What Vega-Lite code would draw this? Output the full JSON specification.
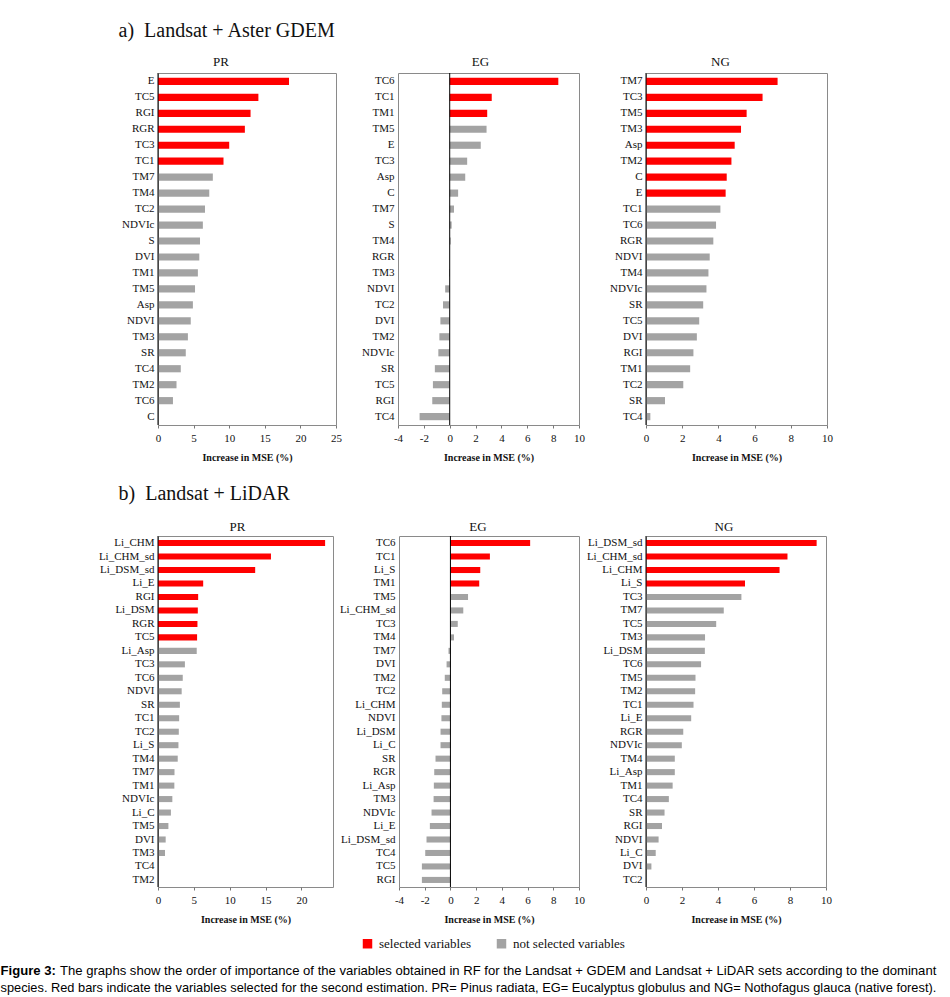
{
"$schema":"https://vega.github.io/schema/vega-lite/v6.json",
"padding":{"left":0,"top":21,"right":0,"bottom":0},
"background":"white",
"config":{
 "font":"Liberation Serif",
 "view":{"stroke":"#8a8a8a","strokeWidth":1},
 "scale":{"bandPaddingInner":0.55,"bandPaddingOuter":0.3},
 "axis":{"grid":false,"labelFont":"Liberation Serif","titleFont":"Liberation Serif","labelColor":"#111","titleColor":"#111"},
 "axisY":{"ticks":false,"domain":false,"labelFontSize":11,"labelPadding":4},
 "axisX":{"domain":false,"tickColor":"#777","tickSize":3,"labelFontSize":11,"labelFlush":false,"labelPadding":4,"titleFontSize":10,"titleFontWeight":"bold","titlePadding":9,"labelExpr":"replace(datum.label, '\u2212', '-')"},
 "title":{"font":"Liberation Serif","fontSize":13,"fontWeight":"normal","offset":4,"color":"#111"},
 "concat":{"spacing":0}
},
"datasets":{
 "aPR":[
  {"v":"E","r":1,"x":18.4,"k":"selected"},{"v":"TC5","r":2,"x":14.1,"k":"selected"},{"v":"RGI","r":3,"x":13.0,"k":"selected"},{"v":"RGR","r":4,"x":12.2,"k":"selected"},{"v":"TC3","r":5,"x":10.0,"k":"selected"},{"v":"TC1","r":6,"x":9.2,"k":"selected"},
  {"v":"TM7","r":7,"x":7.7,"k":"not selected"},{"v":"TM4","r":8,"x":7.2,"k":"not selected"},{"v":"TC2","r":9,"x":6.6,"k":"not selected"},{"v":"NDVIc","r":10,"x":6.3,"k":"not selected"},{"v":"S","r":11,"x":5.9,"k":"not selected"},{"v":"DVI","r":12,"x":5.8,"k":"not selected"},{"v":"TM1","r":13,"x":5.6,"k":"not selected"},{"v":"TM5","r":14,"x":5.2,"k":"not selected"},{"v":"Asp","r":15,"x":4.9,"k":"not selected"},{"v":"NDVI","r":16,"x":4.6,"k":"not selected"},{"v":"TM3","r":17,"x":4.2,"k":"not selected"},{"v":"SR","r":18,"x":3.9,"k":"not selected"},{"v":"TC4","r":19,"x":3.2,"k":"not selected"},{"v":"TM2","r":20,"x":2.6,"k":"not selected"},{"v":"TC6","r":21,"x":2.1,"k":"not selected"},{"v":"C","r":22,"x":0,"k":"not selected"}
 ],
 "aEG":[
  {"v":"TC6","r":1,"x":8.4,"k":"selected"},{"v":"TC1","r":2,"x":3.25,"k":"selected"},{"v":"TM1","r":3,"x":2.9,"k":"selected"},
  {"v":"TM5","r":4,"x":2.85,"k":"not selected"},{"v":"E","r":5,"x":2.4,"k":"not selected"},{"v":"TC3","r":6,"x":1.35,"k":"not selected"},{"v":"Asp","r":7,"x":1.2,"k":"not selected"},{"v":"C","r":8,"x":0.65,"k":"not selected"},{"v":"TM7","r":9,"x":0.33,"k":"not selected"},{"v":"S","r":10,"x":0.15,"k":"not selected"},{"v":"TM4","r":11,"x":0.08,"k":"not selected"},{"v":"RGR","r":12,"x":0,"k":"not selected"},{"v":"TM3","r":13,"x":-0.05,"k":"not selected"},{"v":"NDVI","r":14,"x":-0.35,"k":"not selected"},{"v":"TC2","r":15,"x":-0.52,"k":"not selected"},{"v":"DVI","r":16,"x":-0.72,"k":"not selected"},{"v":"TM2","r":17,"x":-0.8,"k":"not selected"},{"v":"NDVIc","r":18,"x":-0.88,"k":"not selected"},{"v":"SR","r":19,"x":-1.15,"k":"not selected"},{"v":"TC5","r":20,"x":-1.3,"k":"not selected"},{"v":"RGI","r":21,"x":-1.35,"k":"not selected"},{"v":"TC4","r":22,"x":-2.33,"k":"not selected"}
 ],
 "aNG":[
  {"v":"TM7","r":1,"x":7.27,"k":"selected"},{"v":"TC3","r":2,"x":6.44,"k":"selected"},{"v":"TM5","r":3,"x":5.56,"k":"selected"},{"v":"TM3","r":4,"x":5.25,"k":"selected"},{"v":"Asp","r":5,"x":4.9,"k":"selected"},{"v":"TM2","r":6,"x":4.72,"k":"selected"},{"v":"C","r":7,"x":4.46,"k":"selected"},{"v":"E","r":8,"x":4.4,"k":"selected"},
  {"v":"TC1","r":9,"x":4.11,"k":"not selected"},{"v":"TC6","r":10,"x":3.87,"k":"not selected"},{"v":"RGR","r":11,"x":3.72,"k":"not selected"},{"v":"NDVI","r":12,"x":3.52,"k":"not selected"},{"v":"TM4","r":13,"x":3.45,"k":"not selected"},{"v":"NDVIc","r":14,"x":3.34,"k":"not selected"},{"v":"SR","r":15,"x":3.16,"k":"not selected"},{"v":"TC5","r":16,"x":2.94,"k":"not selected"},{"v":"DVI","r":17,"x":2.81,"k":"not selected"},{"v":"RGI","r":18,"x":2.62,"k":"not selected"},{"v":"TM1","r":19,"x":2.44,"k":"not selected"},{"v":"TC2","r":20,"x":2.06,"k":"not selected"},{"v":"SR\u200b","r":21,"x":1.05,"k":"not selected"},{"v":"TC4","r":22,"x":0.24,"k":"not selected"}
 ],
 "bPR":[
  {"v":"Li_CHM","r":1,"x":23.3,"k":"selected"},{"v":"Li_CHM_sd","r":2,"x":15.75,"k":"selected"},{"v":"Li_DSM_sd","r":3,"x":13.55,"k":"selected"},{"v":"Li_E","r":4,"x":6.3,"k":"selected"},{"v":"RGI","r":5,"x":5.6,"k":"selected"},{"v":"Li_DSM","r":6,"x":5.55,"k":"selected"},{"v":"RGR","r":7,"x":5.5,"k":"selected"},{"v":"TC5","r":8,"x":5.45,"k":"selected"},
  {"v":"Li_Asp","r":9,"x":5.4,"k":"not selected"},{"v":"TC3","r":10,"x":3.75,"k":"not selected"},{"v":"TC6","r":11,"x":3.45,"k":"not selected"},{"v":"NDVI","r":12,"x":3.3,"k":"not selected"},{"v":"SR","r":13,"x":3.05,"k":"not selected"},{"v":"TC1","r":14,"x":2.95,"k":"not selected"},{"v":"TC2","r":15,"x":2.9,"k":"not selected"},{"v":"Li_S","r":16,"x":2.85,"k":"not selected"},{"v":"TM4","r":17,"x":2.75,"k":"not selected"},{"v":"TM7","r":18,"x":2.3,"k":"not selected"},{"v":"TM1","r":19,"x":2.28,"k":"not selected"},{"v":"NDVIc","r":20,"x":2.0,"k":"not selected"},{"v":"Li_C","r":21,"x":1.8,"k":"not selected"},{"v":"TM5","r":22,"x":1.45,"k":"not selected"},{"v":"DVI","r":23,"x":1.07,"k":"not selected"},{"v":"TM3","r":24,"x":0.98,"k":"not selected"},{"v":"TC4","r":25,"x":0,"k":"not selected"},{"v":"TM2","r":26,"x":0,"k":"not selected"}
 ],
 "bEG":[
  {"v":"TC6","r":1,"x":6.2,"k":"selected"},{"v":"TC1","r":2,"x":3.07,"k":"selected"},{"v":"Li_S","r":3,"x":2.32,"k":"selected"},{"v":"TM1","r":4,"x":2.24,"k":"selected"},
  {"v":"TM5","r":5,"x":1.37,"k":"not selected"},{"v":"Li_CHM_sd","r":6,"x":1.0,"k":"not selected"},{"v":"TC3","r":7,"x":0.57,"k":"not selected"},{"v":"TM4","r":8,"x":0.28,"k":"not selected"},{"v":"TM7","r":9,"x":-0.15,"k":"not selected"},{"v":"DVI","r":10,"x":-0.3,"k":"not selected"},{"v":"TM2","r":11,"x":-0.44,"k":"not selected"},{"v":"TC2","r":12,"x":-0.64,"k":"not selected"},{"v":"Li_CHM","r":13,"x":-0.67,"k":"not selected"},{"v":"NDVI","r":14,"x":-0.7,"k":"not selected"},{"v":"Li_DSM","r":15,"x":-0.77,"k":"not selected"},{"v":"Li_C","r":16,"x":-0.77,"k":"not selected"},{"v":"SR","r":17,"x":-1.16,"k":"not selected"},{"v":"RGR","r":18,"x":-1.26,"k":"not selected"},{"v":"Li_Asp","r":19,"x":-1.29,"k":"not selected"},{"v":"TM3","r":20,"x":-1.31,"k":"not selected"},{"v":"NDVIc","r":21,"x":-1.47,"k":"not selected"},{"v":"Li_E","r":22,"x":-1.6,"k":"not selected"},{"v":"Li_DSM_sd","r":23,"x":-1.86,"k":"not selected"},{"v":"TC4","r":24,"x":-1.96,"k":"not selected"},{"v":"TC5","r":25,"x":-2.22,"k":"not selected"},{"v":"RGI","r":26,"x":-2.22,"k":"not selected"}
 ],
 "bNG":[
  {"v":"Li_DSM_sd","r":1,"x":9.48,"k":"selected"},{"v":"Li_CHM_sd","r":2,"x":7.86,"k":"selected"},{"v":"Li_CHM","r":3,"x":7.42,"k":"selected"},{"v":"Li_S","r":4,"x":5.5,"k":"selected"},
  {"v":"TC3","r":5,"x":5.3,"k":"not selected"},{"v":"TM7","r":6,"x":4.32,"k":"not selected"},{"v":"TC5","r":7,"x":3.9,"k":"not selected"},{"v":"TM3","r":8,"x":3.28,"k":"not selected"},{"v":"Li_DSM","r":9,"x":3.27,"k":"not selected"},{"v":"TC6","r":10,"x":3.06,"k":"not selected"},{"v":"TM5","r":11,"x":2.75,"k":"not selected"},{"v":"TM2","r":12,"x":2.73,"k":"not selected"},{"v":"TC1","r":13,"x":2.64,"k":"not selected"},{"v":"Li_E","r":14,"x":2.51,"k":"not selected"},{"v":"RGR","r":15,"x":2.07,"k":"not selected"},{"v":"NDVIc","r":16,"x":1.99,"k":"not selected"},{"v":"TM4","r":17,"x":1.6,"k":"not selected"},{"v":"Li_Asp","r":18,"x":1.6,"k":"not selected"},{"v":"TM1","r":19,"x":1.48,"k":"not selected"},{"v":"TC4","r":20,"x":1.27,"k":"not selected"},{"v":"SR","r":21,"x":1.03,"k":"not selected"},{"v":"RGI","r":22,"x":0.89,"k":"not selected"},{"v":"NDVI","r":23,"x":0.7,"k":"not selected"},{"v":"Li_C","r":24,"x":0.54,"k":"not selected"},{"v":"DVI","r":25,"x":0.3,"k":"not selected"},{"v":"TC2","r":26,"x":0,"k":"not selected"}
 ]
},
"resolve":{"scale":{"color":"independent"},"legend":{"color":"independent"}},
"title":{"text":"species. Red bars indicate the variables selected for the second estimation. PR= Pinus radiata, EG= Eucalyptus globulus and NG= Nothofagus glauca (native forest).","orient":"bottom","anchor":"start","frame":"bounds","font":"Liberation Sans","fontSize":12.8,"fontWeight":"normal","offset":4,"color":"#000"},
"vconcat":[
 {
  "resolve":{"scale":{"color":"independent"},"legend":{"color":"independent"}},
  "title":{"text":"The graphs show the order of importance of the variables obtained in RF for the Landsat + GDEM and Landsat + LiDAR sets according to the dominant","orient":"bottom","anchor":"start","frame":"bounds","dx":59.5,"font":"Liberation Sans","fontSize":13.1,"fontWeight":"normal","offset":-13,"color":"#000"},
  "vconcat":[
   {
    "resolve":{"scale":{"color":"independent"},"legend":{"color":"independent"}},
    "title":{"text":"Figure 3:","orient":"bottom","anchor":"start","frame":"bounds","font":"Liberation Sans","fontSize":13.1,"fontWeight":"bold","offset":8,"color":"#000"},
    "vconcat":[
     {
      "resolve":{"scale":{"color":"independent"},"legend":{"color":"independent"}},
      "spacing":12,
      "vconcat":[
       {
        "spacing":21,
        "vconcat":[
         {
          "title":{"text":"a)\u00a0\u00a0Landsat + Aster GDEM","anchor":"start","fontSize":20,"offset":14,"dx":118},
          "hconcat":[
           {"width":178,"height":352,"title":{"text":"PR","dx":-26},
            "encoding":{"x":{"field":"x","type":"quantitative","title":"Increase in MSE (%)","scale":{"domain":[0,25],"nice":false,"zero":false},"axis":{"values":[0,5,10,15,20,25]}}},
            "layer":[
             {"data":{"name":"aPR"},"mark":"bar","encoding":{"y":{"field":"v","type":"nominal","title":null,"sort":{"field":"r","op":"min"},"axis":{"minExtent":157,"maxExtent":157}},"color":{"field":"k","type":"nominal","scale":{"domain":["selected","not selected"],"range":["#ff0000","#a3a3a3"]},"legend":null}}},
             {"data":{"values":[{"x":0}]},"mark":{"type":"rule","color":"#000","strokeWidth":1},"encoding":{}}
            ]},
           {"width":181,"height":352,"title":{"text":"EG","dx":-8},
            "encoding":{"x":{"field":"x","type":"quantitative","title":"Increase in MSE (%)","scale":{"domain":[-4,10],"nice":false,"zero":false},"axis":{"values":[-4,-2,0,2,4,6,8,10]}}},
            "layer":[
             {"data":{"name":"aEG"},"mark":"bar","encoding":{"y":{"field":"v","type":"nominal","title":null,"sort":{"field":"r","op":"min"},"axis":{"minExtent":55,"maxExtent":55}},"color":{"field":"k","type":"nominal","scale":{"domain":["selected","not selected"],"range":["#ff0000","#a3a3a3"]},"legend":null}}},
             {"data":{"values":[{"x":0}]},"mark":{"type":"rule","color":"#000","strokeWidth":1},"encoding":{}}
            ]},
           {"width":181,"height":352,"title":{"text":"NG","dx":-16},
            "encoding":{"x":{"field":"x","type":"quantitative","title":"Increase in MSE (%)","scale":{"domain":[0,10],"nice":false,"zero":false},"axis":{"values":[0,2,4,6,8,10]}}},
            "layer":[
             {"data":{"name":"aNG"},"mark":"bar","encoding":{"y":{"field":"v","type":"nominal","title":null,"sort":{"field":"r","op":"min"},"axis":{"minExtent":60,"maxExtent":60}},"color":{"field":"k","type":"nominal","scale":{"domain":["selected","not selected"],"range":["#ff0000","#a3a3a3"]},"legend":null}}},
             {"data":{"values":[{"x":0}]},"mark":{"type":"rule","color":"#000","strokeWidth":1},"encoding":{}}
            ]}
          ]
         },
         {
          "title":{"text":"b)\u00a0\u00a0Landsat + LiDAR","anchor":"start","fontSize":20,"offset":16,"dx":118},
          "hconcat":[
           {"width":175,"height":351,"title":{"text":"PR","dx":-8,"offset":2},
            "encoding":{"x":{"field":"x","type":"quantitative","title":"Increase in MSE (%)","scale":{"domain":[0,24.4],"nice":false,"zero":false},"axis":{"values":[0,5,10,15,20]}}},
            "layer":[
             {"data":{"name":"bPR"},"mark":"bar","encoding":{"y":{"field":"v","type":"nominal","title":null,"sort":{"field":"r","op":"min"},"axis":{"minExtent":157,"maxExtent":157}},"color":{"field":"k","type":"nominal","scale":{"domain":["selected","not selected"],"range":["#ff0000","#a3a3a3"]},"legend":null}}},
             {"data":{"values":[{"x":0}]},"mark":{"type":"rule","color":"#000","strokeWidth":1},"encoding":{}}
            ]},
           {"width":180,"height":351,"title":{"text":"EG","dx":-11,"offset":2},
            "encoding":{"x":{"field":"x","type":"quantitative","title":"Increase in MSE (%)","scale":{"domain":[-4,10],"nice":false,"zero":false},"axis":{"values":[-4,-2,0,2,4,6,8,10]}}},
            "layer":[
             {"data":{"name":"bEG"},"mark":"bar","encoding":{"y":{"field":"v","type":"nominal","title":null,"sort":{"field":"r","op":"min"},"axis":{"minExtent":64,"maxExtent":64}},"color":{"field":"k","type":"nominal","scale":{"domain":["selected","not selected"],"range":["#ff0000","#a3a3a3"]},"legend":null}}},
             {"data":{"values":[{"x":0}]},"mark":{"type":"rule","color":"#000","strokeWidth":1},"encoding":{}}
            ]},
           {"width":180,"height":351,"title":{"text":"NG","dx":-12,"offset":2},
            "encoding":{"x":{"field":"x","type":"quantitative","title":"Increase in MSE (%)","scale":{"domain":[0,10],"nice":false,"zero":false},"axis":{"values":[0,2,4,6,8,10]}}},
            "layer":[
             {"data":{"name":"bNG"},"mark":"bar","encoding":{"y":{"field":"v","type":"nominal","title":null,"sort":{"field":"r","op":"min"},"axis":{"minExtent":60,"maxExtent":60}},"color":{"field":"k","type":"nominal","scale":{"domain":["selected","not selected"],"range":["#ff0000","#a3a3a3"]},"legend":null}}},
             {"data":{"values":[{"x":0}]},"mark":{"type":"rule","color":"#000","strokeWidth":1},"encoding":{}}
            ]}
          ]
         }
        ]
       },
       {
        "width":950,"height":0,"view":{"stroke":null},
        "data":{"values":[{"k":"selected variables"},{"k":"not selected variables"}]},
        "mark":{"type":"square","opacity":0},
        "encoding":{"color":{"field":"k","type":"nominal","scale":{"domain":["selected variables","not selected variables"],"range":["#ff0000","#a3a3a3"]},
         "legend":{"orient":"none","legendX":203,"legendY":0,"direction":"horizontal","title":null,"symbolType":"square","symbolSize":90,"symbolOpacity":1,"symbolStrokeWidth":0,"labelFont":"Liberation Serif","labelFontSize":13,"labelColor":"#111","columnPadding":23,"labelOffset":5}}}
       }
      ]
     }
    ]
   }
  ]
 }
]
}
